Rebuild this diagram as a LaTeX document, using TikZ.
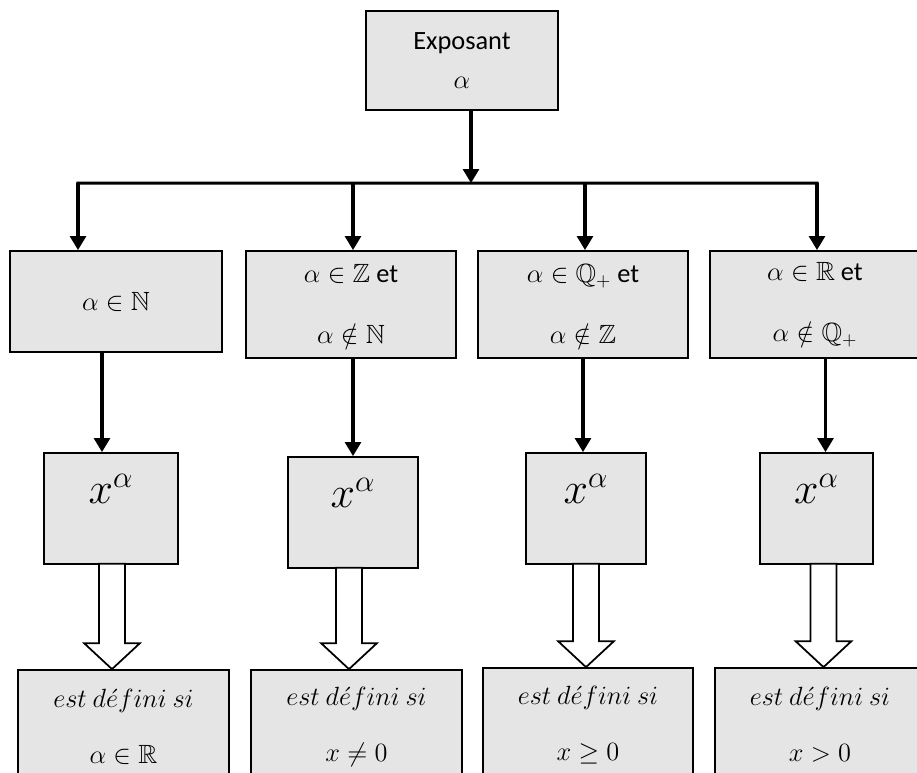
\RequirePackage{fix-cm}
\documentclass[tikz,border=0pt]{standalone}
\usepackage{amsmath, amssymb}
\usepackage{fontspec}
\setmainfont{Carlito}
\usepackage{tikz}
\usetikzlibrary{positioning, arrows.meta, calc}

\tikzset{
  box/.style={draw=black, line width=1pt, fill=gray!20, inner sep=0pt, align=center,
    font=\fontsize{15}{18}\selectfont},
  arr/.style={line width=1.8pt, -{Triangle[width=9pt,length=8pt]}},
  hollow/.style={draw=black, line width=1pt, fill=white, line join=miter},
  pow/.style={inner sep=0pt, font=\fontsize{25}{30}\selectfont}
}

\begin{document}
\begin{tikzpicture}[x=0.02cm, y=-0.02cm]
\useasboundingbox (0,0) rectangle (917,773);

% exposant
\node[box, minimum width=3.84cm, minimum height=1.98cm] (top) at (462,60.5) {Exposant\\[4.5pt]$\alpha$};

% cas sur alpha
\node[box, minimum width=4.24cm, minimum height=2.02cm] (r1) at (116,301.5) {$\alpha \in \mathbb{N}$};
\node[box, minimum width=4.2cm, minimum height=2.14cm] (r2) at (351,304.5) {$\alpha \in \mathbb{Z}$ et\\[17pt]$\alpha \notin \mathbb{N}$};
\node[box, minimum width=4.2cm, minimum height=2.14cm] (r3) at (583,304.5) {$\alpha \in \mathbb{Q}_+$ et\\[17pt]$\alpha \notin \mathbb{Z}$};
\node[box, minimum width=4.2cm, minimum height=2.14cm] (r4) at (815,304.5) {$\alpha \in \mathbb{R}$ et\\[17pt]$\alpha \notin \mathbb{Q}_+$};

% puissances
\node[box, minimum width=2.68cm, minimum height=2.22cm] (m1) at (111,508.5) {};
\node[box, minimum width=2.6cm, minimum height=2.22cm] (m2) at (353,512.5) {};
\node[box, minimum width=2.4cm, minimum height=2.22cm] (m3) at (586,508.5) {};
\node[box, minimum width=2.26cm, minimum height=2.22cm] (m4) at (816.5,508.5) {};
\foreach \i in {1,...,4}
  \node[pow] (p\i) at ($(m\i.north)+(0,37)$) {$x^{\alpha}$};

% domaines
\node[box, minimum width=4.22cm, minimum height=2.28cm] (d1) at (123.5,727) {$est\ d\acute{e}fini\ si$\\[14pt]$\alpha \in \mathbb{R}$};
\node[box, minimum width=4.22cm, minimum height=2.28cm] (d2) at (356.5,727) {$est\ d\acute{e}fini\ si$\\[14pt]$x \neq 0$};
\node[box, minimum width=4.2cm, minimum height=2.28cm] (d3) at (588,725) {$est\ d\acute{e}fini\ si$\\[14pt]$x \geq 0$};
\node[box, minimum width=4.2cm, minimum height=2.28cm] (d4) at (820,725) {$est\ d\acute{e}fini\ si$\\[14pt]$x > 0$};

% branchement
\foreach \i/\dx in {1/-38,2/2,3/2,4/2}
  \coordinate (b\i) at ($(r\i.north)+(\dx,-67)$);
\coordinate (topout) at ($(top.south)+(9,0)$);
\draw[line width=1.8pt, line cap=rect] (b1) -- (b4);
\draw[arr] (topout) -- (topout |- b1);
\foreach \i in {1,...,4}
  \draw[arr] (b\i) -- (b\i |- r\i.north);

% fleches simples
\foreach \i/\dx in {1/-9,2/0,3/-3,4/9} {
  \coordinate (a\i) at ($(m\i.north)+(\dx,0)$);
  \draw[arr] (a\i |- r\i.south) -- (a\i);
}

% fleches creuses
\foreach \i/\dx in {1/1,2/-4,3/0,4/7} {
  \coordinate (s\i) at ($(m\i.south)+(\dx,-1)$);
  \coordinate (t\i) at (s\i |- d\i.north);
  \draw[hollow] ($(s\i)+(-13,0)$) -- ($(t\i)+(-13,-26)$) -- ($(t\i)+(-28,-26)$) -- (t\i)
    -- ($(t\i)+(28,-26)$) -- ($(t\i)+(13,-26)$) -- ($(s\i)+(13,0)$) -- cycle;
}
\end{tikzpicture}
\end{document}
